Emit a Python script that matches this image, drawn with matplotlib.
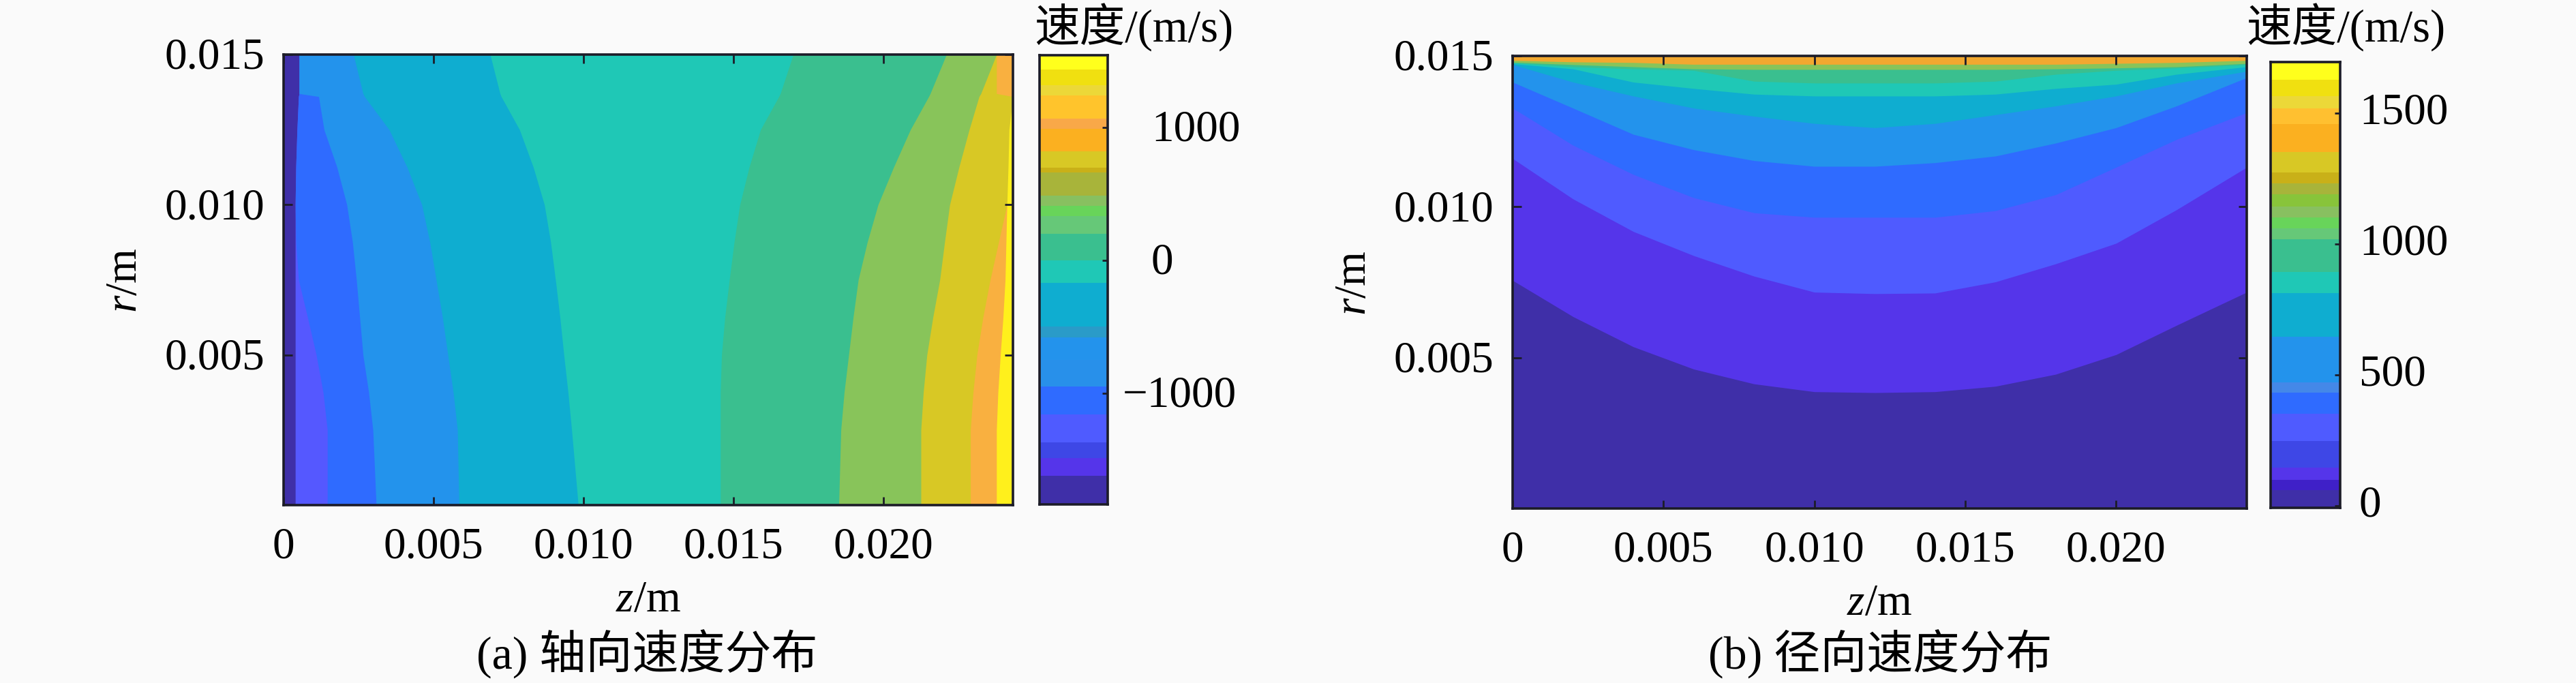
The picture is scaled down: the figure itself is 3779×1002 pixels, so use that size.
import matplotlib
matplotlib.use("Agg")
import matplotlib.pyplot as plt
import numpy as np
from matplotlib.colors import ListedColormap
from matplotlib.transforms import ScaledTranslation

plt.rcParams["font.family"] = ["Liberation Serif", "Noto Sans CJK SC"]
plt.rcParams["mathtext.fontset"] = "custom"
plt.rcParams["mathtext.it"] = "Liberation Serif:italic"
plt.rcParams["mathtext.rm"] = "Liberation Serif"

BG = "#fafafa"
FRAME = "#1c1c28"
W, H = 3780, 1003
FS = 47

Z_MAX = 24.33  # mm
R_MAX = 15.0

# (a) axial velocity: z (mm) of each contour at the radii below
AX_R = [0, 2.5, 3.75, 5, 6.25, 7.5, 8.75, 10, 11.25, 12.5, 13.6, 13.7, 15]
AX_C1 = [0.39, 0.39, 0.39, 0.39, 0.39, 0.39, 0.39, 0.39, 0.41, 0.45, 0.50, 0.52, 0.52]
AX_C2 = [1.46, 1.46, 1.32, 1.09, 0.80, 0.50, 0.41, 0.39, 0.41, 0.45, 0.50, 0.52, 0.52]
AX_C3 = [3.09, 2.98, 2.84, 2.65, 2.54, 2.43, 2.30, 2.11, 1.78, 1.35, 1.17, 0.52, 0.52]
AX_C4 = [5.85, 5.80, 5.66, 5.48, 5.30, 5.09, 4.88, 4.61, 4.12, 3.52, 2.70, 2.65, 2.33]
AX_C5 = [9.83, 9.61, 9.49, 9.35, 9.22, 9.07, 8.91, 8.70, 8.33, 7.87, 7.26, 7.22, 6.89]
AX_C6 = [14.57, 14.57, 14.57, 14.61, 14.72, 14.87, 15.03, 15.22, 15.53, 15.91, 16.52, 16.57, 17.00]
AX_C7 = [18.52, 18.59, 18.70, 18.85, 19.00, 19.17, 19.47, 19.83, 20.35, 20.91, 21.52, 21.57, 22.11]
AX_C8 = [21.26, 21.26, 21.34, 21.46, 21.66, 21.89, 22.05, 22.22, 22.53, 22.87, 23.20, 23.26, 23.78]
AX_C9 = [22.91, 22.91, 23.00, 23.13, 23.33, 23.57, 23.85, 24.13, 24.33, 24.33, 24.33, 23.78, 23.78]
AX_C10 = [23.78, 23.78, 23.83, 23.91, 24.00, 24.07, 24.10, 24.13, 24.17, 24.20, 24.33, 24.33, 24.33]
AX_BASE = "#3f2fa8"
AX_COLORS = ["#5558ff", "#2f6bff", "#2393ec", "#0fadd0", "#1fc8b6",
             "#3abf8f", "#88c45a", "#d8c825", "#f9b040", "#fff01c"]

# (b) radial velocity: r (mm) of each contour at the z positions below
RA_Z = [0, 2, 4, 6, 8, 10, 12, 14, 16, 18, 20, 22, 24.33]
RA_C1 = [7.56, 6.36, 5.36, 4.62, 4.13, 3.87, 3.84, 3.87, 4.05, 4.45, 5.10, 6.07, 7.17]
RA_C2 = [11.60, 10.26, 9.18, 8.38, 7.70, 7.17, 7.12, 7.14, 7.51, 8.11, 8.79, 9.90, 11.31]
RA_C3 = [13.27, 12.04, 11.07, 10.30, 9.80, 9.65, 9.65, 9.65, 9.87, 10.40, 11.31, 12.23, 13.12]
RA_C4 = [14.13, 13.27, 12.40, 11.89, 11.53, 11.34, 11.34, 11.46, 11.68, 12.11, 12.62, 13.34, 14.28]
RA_C5 = [14.71, 14.13, 13.67, 13.27, 13.00, 12.76, 12.62, 12.76, 13.05, 13.34, 13.67, 14.10, 14.49]
RA_C6 = [14.74, 14.57, 14.13, 13.92, 13.73, 13.67, 13.67, 13.67, 13.73, 13.92, 14.06, 14.39, 14.64]
RA_C7 = [14.77, 14.64, 14.57, 14.52, 14.16, 14.10, 14.10, 14.10, 14.16, 14.39, 14.52, 14.60, 14.71]
RA_C8 = [14.79, 14.71, 14.64, 14.57, 14.55, 14.55, 14.55, 14.55, 14.55, 14.57, 14.60, 14.64, 14.75]
RA_C9 = [14.85, 14.80, 14.78, 14.72, 14.72, 14.72, 14.72, 14.72, 14.72, 14.72, 14.75, 14.78, 14.85]
RA_BASE = "#3f2fa8"
RA_COLORS = ["#5535ea", "#4f5bff", "#2f6bff", "#2393ec", "#0fadd0",
             "#1fc8b6", "#3abf8f", "#88c45a", "#f2a830"]

# colour bars
CB_A_EDGES = [-1839, -1623, -1491, -1372, -1161, -950, -752, -580, -501, -171, 0,
              198, 330, 409, 488, 660, 699, 818, 989, 1069, 1240, 1319, 1438, 1544]
CB_A_COLORS = ["#3f2fa8", "#5535ea", "#3e47e6", "#4f5bff", "#2f6bff", "#2890ea",
               "#2393ec", "#2a9bc8", "#0fadd0", "#1fc8b6", "#3abf8f", "#66c878",
               "#68d45a", "#88c060", "#a8b43a", "#c9b018", "#d8c825", "#fbb020",
               "#f9a848", "#ffc42c", "#ecd838", "#f0e010", "#ffff1c"]
CB_B_EDGES = [-7, 60, 100, 147, 247, 353, 433, 473, 647, 813, 893, 1020, 1060,
              1103, 1144, 1191, 1233, 1273, 1353, 1460, 1520, 1567, 1627, 1696]
CB_B_COLORS = ["#3f2fa8", "#3f20c8", "#5535ea", "#3e47e6", "#4f5bff", "#2f6bff",
               "#4488e8", "#2393ec", "#0fadd0", "#1fc8b6", "#3abf8f", "#66c878",
               "#68d45a", "#88c060", "#88c43a", "#a8b43a", "#c9b018", "#d8c825",
               "#fbb020", "#ffc030", "#ecd838", "#f0e010", "#ffff1c"]

Z_TICKS = [0, 0.005, 0.010, 0.015, 0.020]
Z_LABELS = ["0", "0.005", "0.010", "0.015", "0.020"]
R_TICKS = [0.005, 0.010, 0.015]
R_LABELS = ["0.005", "0.010", "0.015"]
CB_A_TICKS = [-1000, 0, 1000]
CB_A_LABELS = ["\u22121000", "0", "1000"]
CB_B_TICKS = [0, 500, 1000, 1500]
CB_B_LABELS = ["0", "500", "1000", "1500"]


def add_axes(fig, left, top, right, bottom):
    return fig.add_axes([left / W, 1 - bottom / H, (right - left) / W, (bottom - top) / H])


def style_frame(ax):
    for spine in ax.spines.values():
        spine.set_linewidth(2.6)
        spine.set_color(FRAME)


def lift_ylabels(ax, px):
    # labels sit a few pixels above their ticks in the source figure
    shift = ScaledTranslation(0, px / 100, ax.figure.dpi_scale_trans)
    for label in ax.get_yticklabels():
        label.set_transform(label.get_transform() + shift)


def style_field(ax):
    ax.set_xlim(0, Z_MAX / 1000)
    ax.set_ylim(0, R_MAX / 1000)
    ax.set_xticks(Z_TICKS, Z_LABELS)
    ax.set_yticks(R_TICKS, R_LABELS)
    ax.tick_params(direction="in", top=True, right=True, length=9, width=2,
                   color=FRAME, labelsize=FS)
    ax.tick_params(axis="x", pad=22)
    ax.tick_params(axis="y", pad=20)
    ax.set_xlabel("$z$/m", fontsize=FS, labelpad=14)
    ax.set_ylabel("$r$/m", fontsize=FS, labelpad=20)
    style_frame(ax)
    lift_ylabels(ax, 3)


def draw_colorbar(ax, edges, colors, ticks, labels, pads, lift):
    codes = np.arange(len(colors)).reshape(-1, 1)
    ax.pcolormesh([0, 1], edges, codes, cmap=ListedColormap(colors), shading="flat")
    ax.set_xticks([])
    ax.yaxis.tick_right()
    ax.set_yticks(ticks, labels)
    ax.tick_params(axis="y", direction="in", length=6, width=2, color=FRAME, labelsize=FS)
    for tick, pad in zip(ax.yaxis.get_major_ticks(), pads):
        tick.set_pad(pad)
    style_frame(ax)
    lift_ylabels(ax, lift)


def main():
    fig = plt.figure(figsize=(W / 100, H / 100), dpi=100, facecolor=BG)

    # (a)
    ax = add_axes(fig, 416, 81, 1486, 742)
    ax.set_facecolor(AX_BASE)
    r_a = np.array(AX_R) / 1000
    contours = [AX_C1, AX_C2, AX_C3, AX_C4, AX_C5, AX_C6, AX_C7, AX_C8, AX_C9, AX_C10]
    for z_mm, color in zip(contours, AX_COLORS):
        ax.fill_betweenx(r_a, np.array(z_mm) / 1000, Z_MAX / 1000, color=color, lw=0)
    style_field(ax)

    cax = add_axes(fig, 1525, 82, 1625, 741)
    draw_colorbar(cax, CB_A_EDGES, CB_A_COLORS, CB_A_TICKS, CB_A_LABELS, [16, 46, 46], 4)
    fig.text(1663 / W, 1 - 62 / H, "速度/(m/s)", fontsize=FS + 1, ha="center", va="baseline")

    # (b)
    ax = add_axes(fig, 2219, 83, 3296, 747)
    ax.set_facecolor(RA_BASE)
    z_b = np.array(RA_Z) / 1000
    contours = [RA_C1, RA_C2, RA_C3, RA_C4, RA_C5, RA_C6, RA_C7, RA_C8, RA_C9]
    for r_mm, color in zip(contours, RA_COLORS):
        ax.fill_between(z_b, np.array(r_mm) / 1000, R_MAX / 1000, color=color, lw=0)
    style_field(ax)

    cax = add_axes(fig, 3331, 92, 3433, 746)
    draw_colorbar(cax, CB_B_EDGES, CB_B_COLORS, CB_B_TICKS, CB_B_LABELS, [20, 20, 20, 20], 9)
    fig.text(3441 / W, 1 - 62 / H, "速度/(m/s)", fontsize=FS + 1, ha="center", va="baseline")

    fig.text(949 / W, 1 - 960 / H, "(a) 轴向速度分布", fontsize=FS + 2, ha="center", va="center")
    fig.text(2758 / W, 1 - 960 / H, "(b) 径向速度分布", fontsize=FS + 2, ha="center", va="center")

    fig.savefig("out.png", dpi=100, facecolor=BG)
    plt.close(fig)


if __name__ == "__main__":
    main()
